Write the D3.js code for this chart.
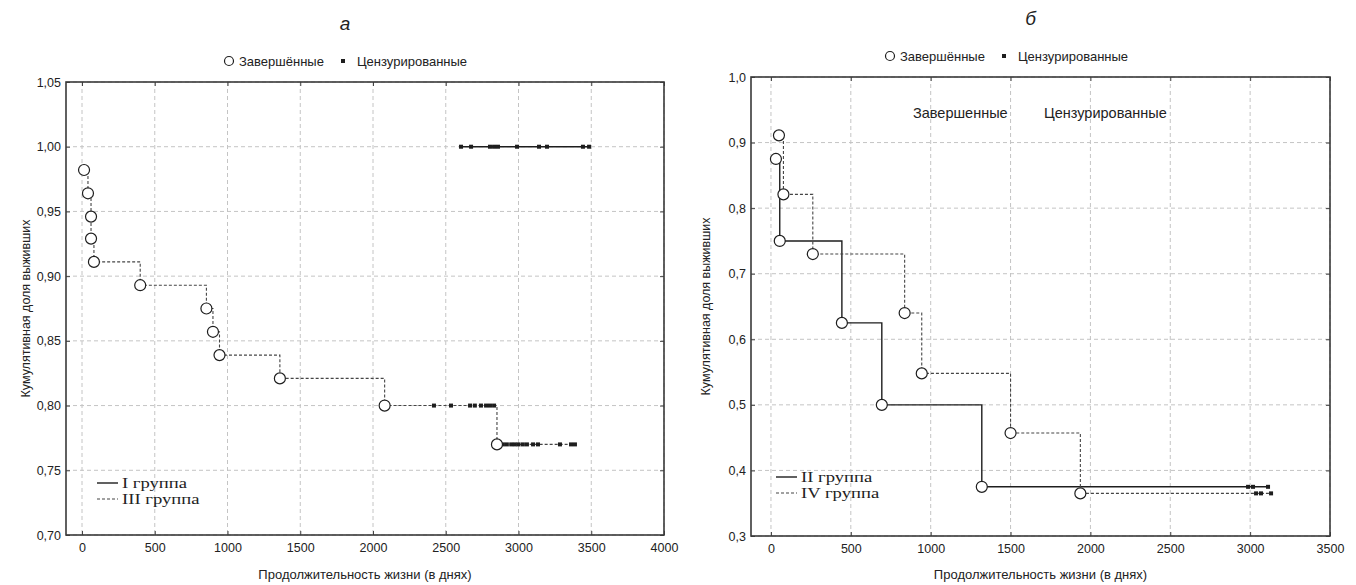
<!DOCTYPE html>
<html>
  <head>
    <meta charset="utf-8">
    <title>Кумулятивная доля выживших</title>
    <style>
      body { margin: 0; background: #fff; }
      svg { font-family: "Liberation Sans", Arial, sans-serif; }
      .grid line { stroke: #c4c4c4; stroke-dasharray: 4,3; stroke-width: 1; }
      .tick text { font-size: 12.5px; fill: #222; }
      .tick line { stroke: #444; }
      .frame { fill: none; stroke: #3a3a3a; stroke-width: 1.6; }
      .solid { fill: none; stroke: #1e1e1e; stroke-width: 1.4; }
      .dotted { fill: none; stroke: #454545; stroke-width: 1.1; stroke-dasharray: 3,2; }
      .event { fill: #fff; stroke: #1e1e1e; stroke-width: 1.2; }
      .cens { fill: #1e1e1e; }
      .legend-serif { font-family: "Liberation Serif", "Times New Roman", serif; font-size: 14px; fill: #222; }
    </style>
    <script src="https://d3js.org/d3.v7.min.js"></script>
  </head>
  <body>
    <div id="chart"></div>
    <script>
// panel а: I группа / III группа
var xTicksA = [0, 500, 1000, 1500, 2000, 2500, 3000, 3500, 4000];
var yTicksA = [0.70, 0.75, 0.80, 0.85, 0.90, 0.95, 1.00, 1.05];

var g1CensT = [2605, 2674, 2804, 2832, 2859, 2990, 3141, 3196, 3443, 3485];
var g1CensS = [1, 1, 1, 1, 1, 1, 1, 1, 1, 1];

var g3EventT = [14, 41, 62, 62, 82, 400, 855, 900, 945, 1360, 2080, 2852];
var g3EventS = [0.982, 0.964, 0.946, 0.929, 0.911, 0.893, 0.875, 0.857, 0.839, 0.821, 0.800, 0.770];
var g3CensT = [2419, 2536, 2667, 2700, 2742, 2777, 2804, 2832,
               2893, 2920, 2950, 2975, 3000, 3030, 3058, 3100, 3134, 3285, 3361, 3388];
var g3CensS = [0.800, 0.800, 0.800, 0.800, 0.800, 0.800, 0.800, 0.800,
               0.770, 0.770, 0.770, 0.770, 0.770, 0.770, 0.770, 0.770, 0.770, 0.770, 0.770, 0.770];

// panel б: II группа / IV группа
var xTicksB = [0, 500, 1000, 1500, 2000, 2500, 3000, 3500];
var yTicksB = [0.3, 0.4, 0.5, 0.6, 0.7, 0.8, 0.9, 1.0];

var g2EventT = [31, 55, 444, 694, 1320];
var g2EventS = [0.875, 0.750, 0.625, 0.500, 0.375];
var g2CensT = [2987, 3018, 3112];
var g2CensS = [0.375, 0.375, 0.375];

var g4EventT = [50, 78, 262, 837, 944, 1500, 1937];
var g4EventS = [0.911, 0.821, 0.730, 0.640, 0.548, 0.457, 0.365];
var g4CensT = [3037, 3068, 3131];
var g4CensS = [0.365, 0.365, 0.365];

var legendTop = ["Завершённые", "Цензурированные"];
var xTitle = "Продолжительность жизни (в днях)";
var yTitle = "Кумулятивная доля выживших";

var svg = d3.select("#chart").append("svg")
  .attr("width", 1356)
  .attr("height", 585);

function pts(ts, ss) {
  return ts.map((t, i) => ({t: t, s: ss[i]}));
}

function drawPanel(p) {
  var x = d3.scaleLinear().domain(p.xDomain).range([p.left, p.right]);
  var y = d3.scaleLinear().domain(p.yDomain).range([p.bottom, p.top]);
  var g = svg.append("g");

  // grid
  var grid = g.append("g").attr("class", "grid");
  grid.selectAll(".gx").data(p.xTicks).enter().append("line")
    .attr("x1", d => x(d)).attr("x2", d => x(d))
    .attr("y1", p.top).attr("y2", p.bottom);
  grid.selectAll(".gy").data(p.yTicks).enter().append("line")
    .attr("x1", p.left).attr("x2", p.right)
    .attr("y1", d => y(d)).attr("y2", d => y(d));

  // stray labels (panel б)
  (p.extra || []).forEach(function(e) {
    g.append("text").attr("x", e.x).attr("y", e.y)
      .style("font-size", "14.5px").style("fill", "#222").text(e.text);
  });

  // axes
  g.append("g").attr("transform", `translate(0,${p.bottom})`)
    .call(d3.axisBottom(x).tickValues(p.xTicks).tickSize(-4).tickPadding(8).tickFormat(d3.format("d")))
    .call(a => a.select(".domain").remove());
  g.append("g").attr("transform", `translate(0,${p.top})`)
    .call(d3.axisTop(x).tickValues(p.xTicks).tickSize(-4).tickFormat(""))
    .call(a => a.select(".domain").remove());
  g.append("g").attr("transform", `translate(${p.left},0)`)
    .call(d3.axisLeft(y).tickValues(p.yTicks).tickSize(-4).tickPadding(5)
      .tickFormat(d => d3.format(p.yFmt)(d).replace(".", ",")))
    .call(a => a.select(".domain").remove());
  g.append("g").attr("transform", `translate(${p.right},0)`)
    .call(d3.axisRight(y).tickValues(p.yTicks).tickSize(-4).tickFormat(""))
    .call(a => a.select(".domain").remove());

  g.append("rect").attr("class", "frame")
    .attr("x", p.left).attr("y", p.top)
    .attr("width", p.right - p.left).attr("height", p.bottom - p.top);

  // survival curves
  var line = d3.line().x(d => x(d.t)).y(d => y(d.s)).curve(d3.curveStepAfter);
  p.series.forEach(function(s) {
    var all = pts(s.evT, s.evS).concat(pts(s.ceT, s.ceS)).sort((a, b) => a.t - b.t);
    g.append("path").attr("class", s.cls).attr("d", line(all));
  });
  p.series.forEach(function(s) {
    g.selectAll(null).data(pts(s.ceT, s.ceS)).enter().append("rect")
      .attr("class", "cens")
      .attr("x", d => x(d.t) - 2).attr("y", d => y(d.s) - 2)
      .attr("width", 4).attr("height", 4);
    g.selectAll(null).data(pts(s.evT, s.evS)).enter().append("circle")
      .attr("class", "event")
      .attr("cx", d => x(d.t)).attr("cy", d => y(d.s)).attr("r", 5.5);
  });

  // title and top legend
  var cx = (p.left + p.right) / 2;
  g.append("text").attr("x", cx + p.titleDx).attr("y", p.titleY)
    .attr("text-anchor", "middle").style("font-size", "19px")
    .style("font-style", "italic").style("fill", "#222").text(p.title);

  var lg = g.append("g").attr("transform", `translate(${p.legX},${p.legY})`);
  lg.append("circle").attr("class", "event").attr("cx", 0).attr("cy", 0).attr("r", 4.5);
  lg.append("text").attr("x", 10).attr("y", 4.5).style("font-size", "13px")
    .style("fill", "#222").text(legendTop[0]);
  lg.append("rect").attr("class", "cens").attr("x", 112).attr("y", -2).attr("width", 4).attr("height", 4);
  lg.append("text").attr("x", 128).attr("y", 4.5).style("font-size", "13px")
    .style("fill", "#222").text(legendTop[1]);

  // group legend
  var gl = g.append("g").attr("transform", `translate(${p.grpX},${p.grpY})`);
  p.series.forEach(function(s, i) {
    gl.append("line").attr("class", s.cls)
      .attr("x1", 0).attr("x2", 21).attr("y1", i * 16).attr("y2", i * 16);
    gl.append("text").attr("class", "legend-serif")
      .attr("transform", `translate(25,${i * 16 + 5}) scale(1.33,1)`)
      .text(s.name);
  });

  // axis titles
  g.append("text").attr("x", cx).attr("y", 579).attr("text-anchor", "middle")
    .style("font-size", "13px").style("fill", "#222").text(xTitle);
  g.append("text")
    .attr("transform", `translate(${p.yTitleX},${(p.top + p.bottom) / 2}) rotate(-90)`)
    .attr("text-anchor", "middle").style("font-size", "12.5px")
    .style("fill", "#222").text(yTitle);
}

drawPanel({
  left: 66, right: 664, top: 82, bottom: 535,
  xDomain: [-110, 4000], yDomain: [0.70, 1.05],
  xTicks: xTicksA, yTicks: yTicksA, yFmt: ".2f",
  title: "а", titleY: 30, titleDx: -20,
  legX: 229, legY: 61, grpX: 97, grpY: 483, yTitleX: 30,
  series: [
    {name: "I группа", cls: "solid", evT: [], evS: [], ceT: g1CensT, ceS: g1CensS},
    {name: "III группа", cls: "dotted", evT: g3EventT, evS: g3EventS, ceT: g3CensT, ceS: g3CensS}
  ]
});

drawPanel({
  left: 751, right: 1330, top: 77, bottom: 536,
  xDomain: [-125, 3500], yDomain: [0.3, 1.0],
  xTicks: xTicksB, yTicks: yTicksB, yFmt: ".1f",
  title: "б", titleY: 25, titleDx: -10,
  legX: 890, legY: 56, grpX: 776, grpY: 477, yTitleX: 710,
  extra: [{x: 913, y: 118, text: "Завершенные"}, {x: 1044, y: 118, text: "Цензурированные"}],
  series: [
    {name: "II группа", cls: "solid", evT: g2EventT, evS: g2EventS, ceT: g2CensT, ceS: g2CensS},
    {name: "IV группа", cls: "dotted", evT: g4EventT, evS: g4EventS, ceT: g4CensT, ceS: g4CensS}
  ]
});
    </script>
  </body>
</html>
